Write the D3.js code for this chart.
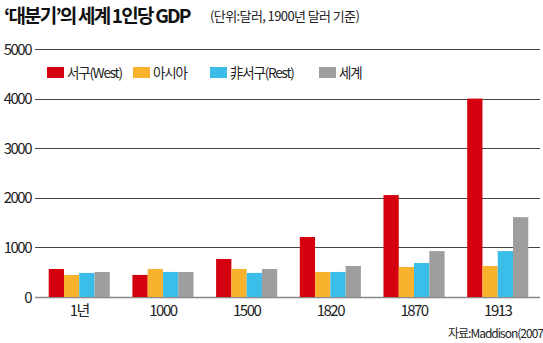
<!DOCTYPE html>
<html>
<head>
<meta charset="utf-8">
<script src="https://cdn.jsdelivr.net/npm/d3@7"></script>
<style>
  body { margin: 0; background: #fff; }
  svg text { font-family: "Noto Sans CJK KR", "Noto Sans", sans-serif; }
</style>
</head>
<body>
<div id="chart1"></div>
<script>
var years = ["1년", "1000", "1500", "1820", "1870", "1913"];
var seriesNames = ["서구(West)", "아시아", "非서구(Rest)", "세계"];
var seriesColors = ["#d5000f", "#f8b22e", "#3bbdea", "#9e9e9e"];
var west = [565, 445, 766, 1210, 2055, 4000];
var asia = [445, 565, 565, 505, 605, 625];
var rest = [485, 505, 485, 505, 685, 925];
var world = [505, 505, 565, 625, 925, 1610];
var yTicks = [0, 1000, 2000, 3000, 4000, 5000];

var allSeries = [west, asia, rest, world];

var width = 543, height = 343;
var margin = { top: 49, right: 3, bottom: 46, left: 35 };

var svg = d3.select("#chart1").append("svg")
    .attr("width", width)
    .attr("height", height);

var x = d3.scaleBand()
    .domain(years)
    .range([margin.left + 2, width - margin.right])
    .paddingInner(0.27)
    .paddingOuter(0.14);

var xs = d3.scaleBand()
    .domain(d3.range(4))
    .range([0, x.bandwidth()]);

var y = d3.scaleLinear()
    .domain([0, 5000])
    .range([height - margin.bottom, margin.top]);

// gridlines
svg.append("g")
    .selectAll("line")
    .data(yTicks)
    .enter().append("line")
    .attr("x1", margin.left)
    .attr("x2", width - margin.right)
    .attr("y1", function (d) { return Math.round(y(d)) + 0.5; })
    .attr("y2", function (d) { return Math.round(y(d)) + 0.5; })
    .attr("stroke", function (d) { return d == 0 ? "#888" : "#444"; })
    .attr("stroke-width", function (d) { return d == 0 ? 1.5 : 1; });

svg.append("g")
    .selectAll("text")
    .data(yTicks)
    .enter().append("text")
    .attr("x", 31)
    .attr("y", function (d) { return y(d) + 5.5; })
    .attr("text-anchor", "end")
    .attr("font-size", 15)
    .attr("letter-spacing", -1.5)
    .attr("fill", "#222")
    .text(function (d) { return d; });

// bars
var groups = svg.append("g")
    .selectAll("g")
    .data(years)
    .enter().append("g")
    .attr("transform", function (d) { return "translate(" + x(d) + ",0)"; });

groups.selectAll("rect")
    .data(function (d, i) { return allSeries.map(function (s, j) { return { s: j, v: s[i] }; }); })
    .enter().append("rect")
    .attr("x", function (d) { return xs(d.s); })
    .attr("width", xs.bandwidth())
    .attr("y", function (d) { return y(d.v); })
    .attr("height", function (d) { return y(0) - y(d.v); })
    .attr("fill", function (d) { return seriesColors[d.s]; });

// x labels
svg.append("g")
    .selectAll("text")
    .data(years)
    .enter().append("text")
    .attr("x", function (d) { return x(d) + x.bandwidth() / 2; })
    .attr("y", 316)
    .attr("text-anchor", "middle")
    .attr("font-size", 15)
    .attr("letter-spacing", -1.5)
    .attr("fill", "#222")
    .text(function (d) { return d; });

// legend
var legendX = [47, 133, 210, 319];
var legend = svg.append("g")
    .selectAll("g")
    .data(seriesNames)
    .enter().append("g")
    .attr("transform", function (d, i) { return "translate(" + legendX[i] + ",67)"; });

legend.append("rect")
    .attr("width", 17)
    .attr("height", 11)
    .attr("fill", function (d, i) { return seriesColors[i]; });

legend.append("text")
    .attr("x", 20)
    .attr("y", 11)
    .attr("font-size", 13.5)
    .attr("letter-spacing", -1.2)
    .attr("fill", "#222")
    .text(function (d) { return d; });

// title
svg.append("text")
    .attr("x", 4)
    .attr("y", 23)
    .attr("font-size", 19)
    .attr("font-weight", "bold")
    .attr("letter-spacing", -1.8)
    .attr("fill", "#111")
    .text("‘대분기’의 세계 1인당 GDP");

svg.append("text")
    .attr("x", 210)
    .attr("y", 21)
    .attr("font-size", 13)
    .attr("letter-spacing", -0.6)
    .attr("fill", "#222")
    .text("(단위:달러, 1900년 달러 기준)");

svg.append("text")
    .attr("x", 543)
    .attr("y", 338)
    .attr("text-anchor", "end")
    .attr("font-size", 12)
    .attr("letter-spacing", -1)
    .attr("fill", "#222")
    .text("자료:Maddison(2007");
</script>
</body>
</html>
